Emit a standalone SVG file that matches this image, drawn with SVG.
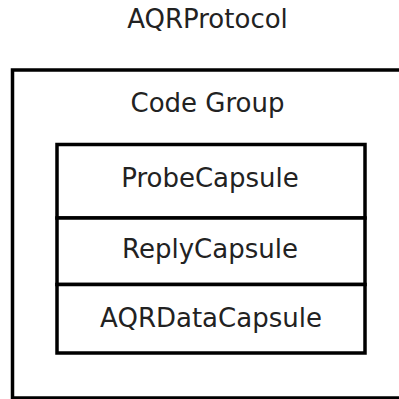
<svg xmlns="http://www.w3.org/2000/svg" width="399" height="399" viewBox="0 0 399 399">
<style>
text{font-family:"DejaVu Sans",sans-serif;font-size:26px;fill:#222;text-anchor:middle}
.box{fill:#fff;stroke:#000;stroke-width:3.5}
</style>
<rect width="399" height="399" fill="#fff"/>
<g id="AQRProtocol">
<text x="207.5" y="28">AQRProtocol</text>
</g>
<g id="CodeGroup">
<rect class="box" x="12.5" y="70" width="392" height="328"/>
<text x="207.5" y="112">Code Group</text>
</g>
<g id="ProbeCapsule">
<rect class="box" x="57" y="144.5" width="308" height="73.5"/>
<text x="210" y="187">ProbeCapsule</text>
</g>
<g id="ReplyCapsule">
<rect class="box" x="57" y="218" width="308" height="66.5"/>
<text x="210" y="258">ReplyCapsule</text>
</g>
<g id="AQRDataCapsule">
<rect class="box" x="57" y="284.5" width="308" height="68.5"/>
<text x="211" y="327">AQRDataCapsule</text>
</g>
<g id="connectors"/>
</svg>
